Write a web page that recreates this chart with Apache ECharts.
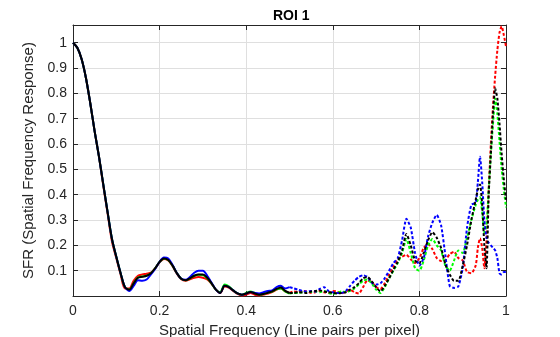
<!DOCTYPE html>
<html>
<head>
<meta charset="utf-8">
<script src="https://cdn.jsdelivr.net/npm/echarts@6/dist/echarts.min.js"></script>
<style>
html,body{margin:0;padding:0;background:#fff;}
#c{width:560px;height:337px;}
</style>
</head>
<body>
<div id="c"></div>
<script>
// Frequencies (line pairs per pixel)
const freqLow = [0,0.01,0.02,0.03,0.04,0.05,0.06,0.07,0.08,0.09,0.10,0.11,0.12,0.13,0.14,0.15,0.16,0.17,0.18,0.19,0.20,0.21,0.22,0.23,0.24,0.25,0.26,0.27,0.28,0.29,0.30,0.31,0.32,0.33,0.34,0.35,0.36,0.37,0.38,0.39,0.40,0.41,0.42,0.43,0.44,0.45,0.46,0.47,0.48,0.49,0.50];
const freqHigh = [0.50,0.51,0.52,0.53,0.54,0.55,0.56,0.57,0.58,0.59,0.60,0.61,0.62,0.63,0.64,0.65,0.66,0.67,0.68,0.69,0.70,0.71,0.72,0.73,0.74,0.75,0.76,0.77,0.78,0.79,0.80,0.81,0.82,0.83,0.84,0.85,0.86,0.87,0.88,0.89,0.90,0.91,0.92,0.93,0.935,0.94,0.945,0.95,0.955,0.96,0.965,0.97,0.975,0.98,0.985,0.99,0.995,1.0];

// SFR values, up to 0.5 (solid)
const redLow   = [1.0,0.98,0.935,0.86,0.76,0.65,0.55,0.435,0.325,0.215,0.15,0.085,0.03,0.03,0.06,0.08,0.085,0.088,0.092,0.11,0.133,0.146,0.14,0.118,0.088,0.066,0.06,0.066,0.072,0.075,0.072,0.065,0.048,0.025,0.012,0.038,0.033,0.02,0.008,0.002,0.005,0.012,0.005,0.002,0.006,0.01,0.015,0.025,0.03,0.018,0.012];
const greenLow = [1.0,0.98,0.935,0.86,0.76,0.65,0.55,0.44,0.33,0.225,0.155,0.09,0.035,0.025,0.05,0.073,0.077,0.08,0.09,0.11,0.135,0.148,0.142,0.12,0.09,0.068,0.062,0.07,0.08,0.084,0.083,0.07,0.05,0.025,0.015,0.045,0.038,0.022,0.01,0.005,0.012,0.018,0.012,0.006,0.008,0.013,0.018,0.026,0.03,0.018,0.01];
const blueLow  = [1.0,0.98,0.935,0.86,0.76,0.65,0.55,0.44,0.33,0.225,0.155,0.09,0.035,0.02,0.04,0.062,0.06,0.065,0.085,0.108,0.135,0.152,0.148,0.122,0.09,0.068,0.064,0.075,0.092,0.1,0.1,0.08,0.052,0.025,0.012,0.04,0.035,0.022,0.01,0.005,0.01,0.016,0.012,0.01,0.015,0.02,0.022,0.035,0.04,0.03,0.035];
const blackLow = [1.0,0.98,0.935,0.86,0.76,0.65,0.55,0.44,0.33,0.225,0.155,0.09,0.035,0.025,0.05,0.072,0.076,0.08,0.09,0.11,0.135,0.148,0.142,0.12,0.09,0.068,0.062,0.07,0.08,0.085,0.085,0.072,0.05,0.025,0.012,0.04,0.035,0.022,0.01,0.005,0.01,0.016,0.01,0.005,0.008,0.013,0.018,0.028,0.034,0.02,0.012];

// SFR values, from 0.5 (dotted)
const redHigh   = [0.012,0.018,0.015,0.02,0.018,0.012,0.015,0.02,0.015,0.012,0.02,0.018,0.01,0.018,0.025,0.015,0.01,0.035,0.062,0.055,0.035,0.028,0.05,0.085,0.117,0.145,0.155,0.163,0.145,0.13,0.15,0.19,0.205,0.185,0.15,0.138,0.142,0.165,0.175,0.15,0.14,0.095,0.09,0.12,0.19,0.228,0.19,0.11,0.22,0.42,0.6,0.75,0.87,0.97,1.04,1.065,1.03,0.985];
const greenHigh = [0.01,0.012,0.012,0.015,0.016,0.016,0.018,0.015,0.02,0.012,0.008,0.012,0.018,0.015,0.02,0.03,0.045,0.06,0.065,0.05,0.025,0.012,0.035,0.07,0.1,0.13,0.17,0.225,0.17,0.11,0.1,0.14,0.2,0.225,0.2,0.18,0.12,0.1,0.14,0.18,0.17,0.23,0.3,0.36,0.38,0.39,0.33,0.25,0.28,0.42,0.56,0.68,0.78,0.72,0.61,0.5,0.42,0.35];
const blueHigh  = [0.035,0.03,0.025,0.02,0.018,0.02,0.018,0.028,0.035,0.02,0.015,0.012,0.012,0.02,0.04,0.06,0.075,0.082,0.075,0.052,0.045,0.05,0.07,0.1,0.13,0.15,0.22,0.305,0.27,0.17,0.12,0.15,0.235,0.29,0.32,0.28,0.16,0.04,0.032,0.038,0.11,0.27,0.36,0.37,0.45,0.55,0.45,0.3,0.23,0.21,0.2,0.19,0.18,0.15,0.09,0.085,0.095,0.095];
const blackHigh = [0.012,0.012,0.015,0.014,0.012,0.018,0.02,0.022,0.018,0.015,0.012,0.01,0.012,0.015,0.025,0.035,0.05,0.07,0.075,0.058,0.035,0.018,0.04,0.07,0.104,0.135,0.18,0.245,0.2,0.14,0.13,0.17,0.22,0.252,0.23,0.19,0.125,0.085,0.06,0.06,0.12,0.2,0.3,0.38,0.42,0.44,0.36,0.2,0.11,0.4,0.56,0.72,0.82,0.78,0.68,0.56,0.46,0.38];

const xTicks = [0,0.2,0.4,0.6,0.8,1];
const yTickLabels = ['0.1','0.2','0.3','0.4','0.5','0.6','0.7','0.8','0.9','1'];

const lines = [
  {name:'red',   color:'#ff0000', low:redLow,   high:redHigh},
  {name:'green', color:'#00ff00', low:greenLow, high:greenHigh},
  {name:'blue',  color:'#0000ff', low:blueLow,  high:blueHigh},
  {name:'black', color:'#000000', low:blackLow, high:blackHigh}
];

const pair = (xs, ys) => xs.map((x,i) => [x, ys[i]]);
const series = [];
lines.forEach((l, k) => {
  series.push({type:'line', name:l.name, data:pair(freqLow,l.low), showSymbol:false, smooth:0.3,
    lineStyle:{color:l.color, width:2}, z:2+k, silent:true});
  series.push({type:'line', name:l.name, data:pair(freqHigh,l.high), showSymbol:false, smooth:0.2,
    lineStyle:{color:l.color, width:2, type:[3,2]}, z:2+k, silent:true});
});

const ink = '#262626';
const font = 'Liberation Sans, Arial, sans-serif';
const chart = echarts.init(document.getElementById('c'), null, {renderer:'canvas'});
chart.setOption({
  animation:false,
  backgroundColor:'#fff',
  title:{text:'ROI 1', left:268, top:4,
    textStyle:{fontFamily:font, fontSize:14, fontWeight:'bold', color:'#000'}},
  grid:{left:73, right:54, top:25, bottom:41, containLabel:false, outerBoundsMode:'none'},
  xAxis:[
    {type:'value', min:0, max:1, interval:0.2, position:'bottom',
     name:'Spatial Frequency (Line pairs per pixel)', nameLocation:'middle', nameGap:25,
     nameTextStyle:{fontFamily:font, fontSize:15, color:ink},
     axisLine:{show:true, onZero:false, lineStyle:{color:ink, width:1}},
     axisTick:{show:true, inside:true, length:5, lineStyle:{color:ink}},
     axisLabel:{fontFamily:font, fontSize:14, color:ink, margin:8,
       formatter:v => { const t = xTicks.find(a => Math.abs(a-v)<1e-6); return t===undefined ? '' : String(t); }},
     splitLine:{show:true, lineStyle:{color:'#dfdfdf', width:1}}},
    {type:'value', min:0, max:1, interval:0.2, position:'top',
     axisLine:{show:true, onZero:false, lineStyle:{color:ink, width:1}},
     axisTick:{show:true, inside:true, length:5, lineStyle:{color:ink}},
     axisLabel:{show:false}, splitLine:{show:false}}
  ],
  yAxis:[
    {type:'value', min:0, max:1.07, interval:0.1, position:'left',
     name:'SFR (Spatial Frequency Response)', nameLocation:'middle', nameGap:31, nameRotate:90,
     nameTextStyle:{fontFamily:font, fontSize:15, color:ink},
     axisLine:{show:true, onZero:false, lineStyle:{color:ink, width:1}},
     axisTick:{show:true, inside:true, length:5, lineStyle:{color:ink}},
     axisLabel:{fontFamily:font, fontSize:14, color:ink, margin:6, showMaxLabel:false,
       formatter:v => { const i = Math.round(v*10); return (i>=1 && i<=10 && Math.abs(v*10-i)<1e-6) ? yTickLabels[i-1] : ''; }},
     splitLine:{show:true, lineStyle:{color:'#dfdfdf', width:1}}},
    {type:'value', min:0, max:1.07, interval:0.1, position:'right',
     axisLine:{show:true, onZero:false, lineStyle:{color:ink, width:1}},
     axisTick:{show:true, inside:true, length:5, lineStyle:{color:ink}},
     axisLabel:{show:false}, splitLine:{show:false}}
  ],
  series: series
});
</script>
</body>
</html>
